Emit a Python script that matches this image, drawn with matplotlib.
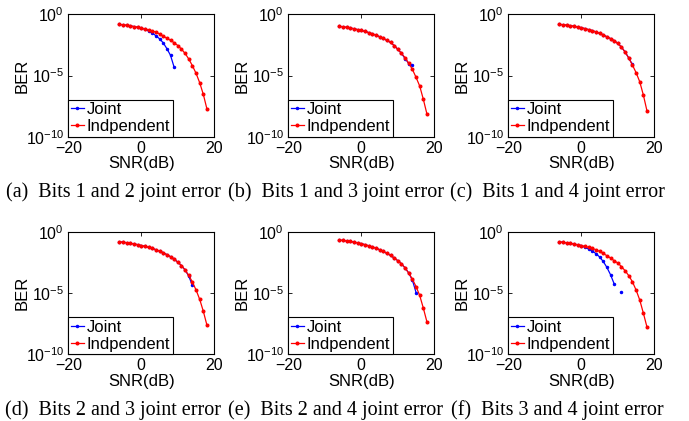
import numpy as np
import matplotlib
matplotlib.use("Agg")
import matplotlib.pyplot as plt
from matplotlib.ticker import NullLocator

plt.rcParams['font.family'] = ['Liberation Sans', 'DejaVu Sans']
plt.rcParams['mathtext.fontset'] = 'custom'
plt.rcParams['mathtext.rm'] = 'Liberation Sans'
plt.rcParams['mathtext.it'] = 'Liberation Sans:italic'

# SNR in dB, one point per dB
snr = np.arange(-6, 19)

# BER values, kept as -log10(BER)
ind_a = [0.82, 0.86, 0.90, 0.95, 1.00, 1.06, 1.12, 1.19, 1.27, 1.36, 1.46, 1.60, 1.78,
         1.95, 2.13, 2.32, 2.55, 2.84, 3.20, 3.65, 4.20, 4.82, 5.59, 6.55, 7.76]
joint_a = [0.82, 0.86, 0.90, 0.95, 1.00, 1.06, 1.12, 1.23, 1.36, 1.53, 1.75, 2.00, 2.33,
           2.80, 3.35, 4.33]

ind_b = [0.98, 1.02, 1.07, 1.12, 1.18, 1.25, 1.32, 1.40, 1.49, 1.59, 1.70, 1.83, 1.97,
         2.13, 2.30, 2.55, 2.86, 3.19, 3.55, 4.00, 4.50, 5.15, 5.86, 6.95, 8.17]
joint_b = [0.98, 1.02, 1.07, 1.12, 1.18, 1.25, 1.32, 1.40, 1.49, 1.59, 1.70, 1.83, 1.97,
           2.13, 2.30, 2.55, 2.86, 3.19, 3.62, 4.02, 4.15]

ind_c = [0.82, 0.85, 0.89, 0.93, 0.98, 1.04, 1.09, 1.17, 1.25, 1.33, 1.44, 1.55, 1.69,
         1.83, 1.98, 2.16, 2.38, 2.68, 3.08, 3.57, 4.14, 4.76, 5.50, 6.59, 7.90]
joint_c = [0.82, 0.85, 0.89, 0.93, 0.98, 1.04, 1.09, 1.17, 1.25, 1.33, 1.44, 1.55, 1.69,
           1.83, 1.98, 2.16, 2.38, 2.68, 3.08, 3.57, 4.10]

ind_d = [0.82, 0.85, 0.89, 0.94, 0.99, 1.05, 1.12, 1.19, 1.27, 1.36, 1.46, 1.58, 1.71,
         1.86, 2.03, 2.24, 2.48, 2.76, 3.12, 3.56, 4.10, 4.75, 5.52, 6.50, 7.65]
joint_d = [0.82, 0.85, 0.89, 0.94, 0.99, 1.05, 1.12, 1.19, 1.27, 1.36, 1.46, 1.58, 1.71,
           1.86, 2.03, 2.24, 2.48, 2.76, 3.12, 3.62, 4.38]

ind_e = [0.68, 0.71, 0.74, 0.79, 0.84, 0.90, 0.97, 1.05, 1.14, 1.23, 1.33, 1.46, 1.60,
         1.76, 1.93, 2.13, 2.36, 2.62, 2.95, 3.37, 3.87, 4.47, 5.20, 6.24, 7.38]
joint_e = [0.68, 0.71, 0.74, 0.79, 0.84, 0.90, 0.97, 1.05, 1.14, 1.23, 1.33, 1.46, 1.60,
           1.76, 1.93, 2.13, 2.36, 2.62, 2.95, 3.37, 3.95, 4.96]

ind_f = [0.82, 0.86, 0.90, 0.95, 1.00, 1.06, 1.12, 1.19, 1.27, 1.36, 1.46, 1.60, 1.77,
         1.95, 2.14, 2.36, 2.55, 2.84, 3.18, 3.58, 4.08, 4.75, 5.56, 6.64, 7.79]
# no error counted at 10 dB -> gap in the curve
joint_f = [0.82, 0.86, 0.90, 0.95, 1.00, 1.06, 1.12, 1.28, 1.40, 1.57, 1.78, 2.05, 2.42,
           2.90, 3.50, 4.25, np.nan, 4.93]

captions = ["(a)  Bits 1 and 2 joint error", "(b)  Bits 1 and 3 joint error",
            "(c)  Bits 1 and 4 joint error", "(d)  Bits 2 and 3 joint error",
            "(e)  Bits 2 and 4 joint error", "(f)  Bits 3 and 4 joint error"]
joints = [joint_a, joint_b, joint_c, joint_d, joint_e, joint_f]
inds = [ind_a, ind_b, ind_c, ind_d, ind_e, ind_f]

W, H = 689, 421
fig = plt.figure(figsize=(W / 100, H / 100), dpi=100)

lefts = [68.3, 288.3, 508.3]   # px, left spine of each column
tops = [14.3, 231.8]           # px, top spine of each row
aw, ah = 146.0, 122.4
cap_x = [113.3, 335.5, 557.0]
cap_y = [192.0, 410.0]

for k in range(6):
    r, c = k // 3, k % 3
    ax = fig.add_axes([lefts[c] / W, 1 - (tops[r] + ah) / H, aw / W, ah / H])
    j = np.array(joints[k], dtype=float)
    ax.semilogy(snr[:len(j)], 10.0 ** (-j), '-', color='#0000ff', marker='.',
                markersize=3, lw=0.9, label='Joint')
    ax.semilogy(snr, 10.0 ** (-np.array(inds[k])), '-', color='#ff0000', marker='.',
                markersize=3.8, lw=0.9, label='Indpendent')
    ax.set_xlim(-20, 20)
    ax.set_ylim(1e-10, 1)
    ax.set_xticks([-20, 0, 20])
    ax.set_yticks([1e-10, 1e-5, 1])
    ax.yaxis.set_minor_locator(NullLocator())
    ax.tick_params(direction='in', length=3, width=0.6, top=True, right=True,
                   labelsize=11.5, pad=3.0)
    for s in ax.spines.values():
        s.set_linewidth(0.8)
    ax.set_xlabel('SNR(dB)', fontsize=12)
    ax.set_ylabel('BER', fontsize=12)
    ax.xaxis.set_label_coords(0.5, -0.16)
    ax.yaxis.set_label_coords(-0.265, 0.5)
    leg = ax.legend(loc='lower left', borderaxespad=0, fontsize=12, handlelength=0.8,
                    handletextpad=0.15, borderpad=0.15, labelspacing=0.12,
                    fancybox=False, framealpha=1, edgecolor='black')
    leg.get_frame().set_linewidth(0.8)
    fig.text(cap_x[c] / W, 1 - cap_y[r] / H, captions[k], ha='center', va='center',
             fontsize=14.5, family=['Liberation Serif', 'DejaVu Serif'])

fig.savefig('out.png', dpi=100)
